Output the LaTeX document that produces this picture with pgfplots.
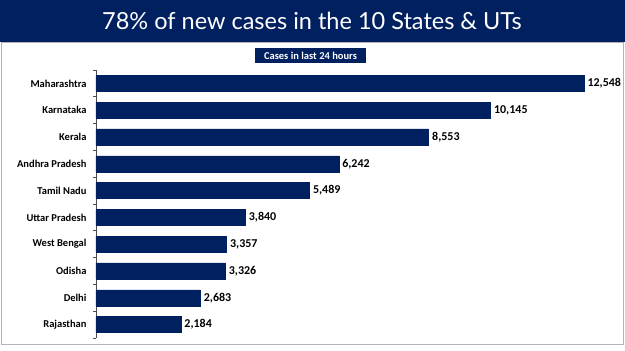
\documentclass[border=0pt]{standalone}
\usepackage{fontspec}
\setmainfont{Carlito}
\newfontfamily\titlefont{Lato}
\usepackage{pgfplots}
\pgfplotsset{compat=1.18}
\definecolor{navy}{RGB}{0,32,96}
\begin{document}
\begin{tikzpicture}[x=1pt,y=1pt]
\fill[white] (0,0) rectangle (625,351);
\fill[navy] (0,309) rectangle (625,351);
\node[text=white,font=\titlefont\fontsize{23.5}{28}\selectfont] at (312,330) {78\% of new cases in the 10 States \& UTs};
\draw[gray!60, line width=1pt] (1.5,6) rectangle (623.5,308);
\fill[navy] (255,288) rectangle (366,303);
\node[text=white,font=\bfseries\fontsize{10.5}{11}\selectfont] at (310.5,295.5) {Cases in last 24 hours};
\begin{axis}[at={(96pt,13pt)}, anchor=south west, scale only axis,
  width=488pt, height=268pt, xmin=0, xmax=12548, ymin=-0.5, ymax=9.5,
  y dir=reverse, xbar, bar width=16pt, clip=false,
  axis x line=none, axis y line*=left,
  y axis line style={black!70, line width=0.6pt},
  ytick={0,...,9},
  yticklabels={Maharashtra,Karnataka,Kerala,Andhra Pradesh,Tamil Nadu,Uttar Pradesh,West Bengal,Odisha,Delhi,Rajasthan},
  major tick length=0pt,
  minor ytick={-0.5,0.5,...,9.5},
  minor tick length=3pt, tick align=outside,
  minor tick style={black!70, line width=0.6pt},
  yticklabel style={font=\bfseries\fontsize{10.5}{11}\selectfont, xshift=-6pt},
  point meta=x,
  nodes near coords={\pgfmathprintnumber[assume math mode=true,1000 sep={,}]{\pgfplotspointmeta}},
  nodes near coords align=horizontal,
  every node near coord/.append style={font=\bfseries\fontsize{12}{13}\selectfont, black, xshift=0pt},
]
\addplot[fill=navy, draw=navy] coordinates {(12548,0) (10145,1) (8553,2) (6242,3) (5489,4) (3840,5) (3357,6) (3326,7) (2683,8) (2184,9)};
\end{axis}
\end{tikzpicture}
\end{document}
